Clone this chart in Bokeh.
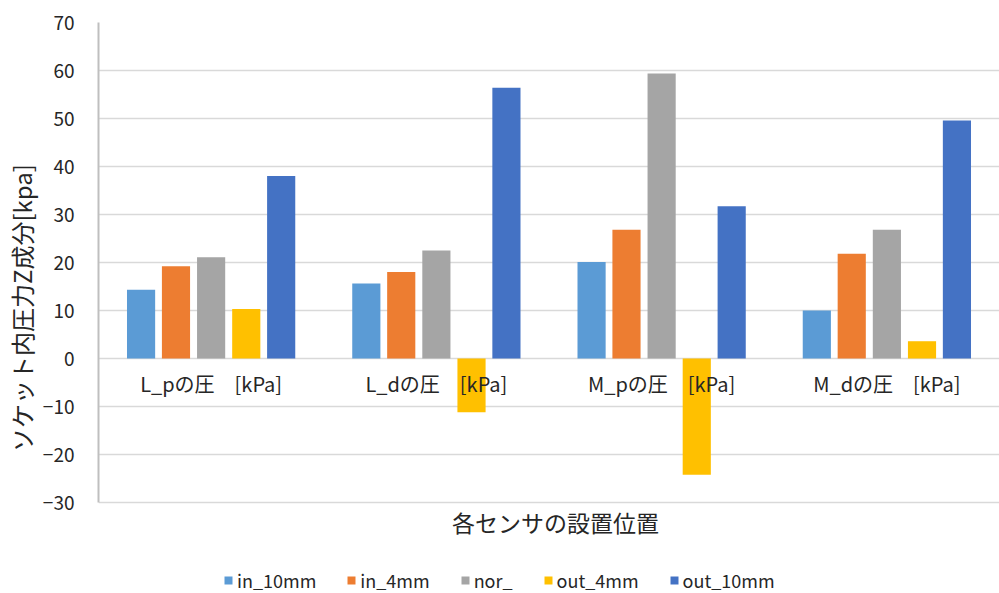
from bokeh.plotting import figure
from bokeh.models import (ColumnDataSource, Legend, LegendItem, FactorRange, Range1d,
                          FixedTicker, Title, Label)
from bokeh.transform import dodge
from bokeh.core.properties import value
from bokeh.embed import file_html
from bokeh.resources import INLINE

categories = ["L_pの圧　[kPa]", "L_dの圧　[kPa]", "M_pの圧　[kPa]", "M_dの圧　[kPa]"]
series_names = ["in_10mm", "in_4mm", "nor_", "out_4mm", "out_10mm"]
in_10mm = [14.3, 15.6, 20.1, 10.0]
in_4mm = [19.2, 18.0, 26.8, 21.8]
nor_ = [21.1, 22.5, 59.4, 26.8]
out_4mm = [10.3, -11.2, -24.2, 3.6]
out_10mm = [38.0, 56.4, 31.7, 49.6]
colors = ["#5B9BD5", "#ED7D31", "#A5A5A5", "#FFC000", "#4472C4"]
y_ticks = [-30, -20, -10, 0, 10, 20, 30, 40, 50, 60, 70]

FONT = "Noto Sans CJK JP"

# layout: value axis spans 480 px (70 -> -30); the frame extends below it to hold
# the x title and the legend
AXIS_PX = 480
FRAME_H = 571
y_start = y_ticks[-1] - (y_ticks[-1] - y_ticks[0]) * FRAME_H / AXIS_PX

src = ColumnDataSource(data=dict(
    cat=categories, in_10mm=in_10mm, in_4mm=in_4mm, nor_=nor_,
    out_4mm=out_4mm, out_10mm=out_10mm, zero=[0] * len(categories),
))

p = figure(
    x_range=FactorRange(*categories, range_padding=0),
    y_range=Range1d(y_start, y_ticks[-1]),
    frame_width=901, frame_height=FRAME_H,
    output_backend="svg", toolbar_location=None,
    min_border_left=97, min_border_right=1, min_border_top=22, min_border_bottom=0,
)
p.outline_line_color = None
p.background_fill_color = "white"
p.border_fill_color = "white"

offsets = [-0.311, -0.156, 0.0, 0.156, 0.311]
items = []
for name, col, off in zip(series_names, colors, offsets):
    r = p.vbar(x=dodge("cat", off, range=p.x_range), top=name, bottom=0, width=0.125,
               source=src, fill_color=col, line_color=None)
    items.append(LegendItem(label=name, renderers=[r]))

# category labels at the zero line
p.text(x="cat", y="zero", text="cat", source=src, text_align="center", text_baseline="middle",
       y_offset=25, text_font=value(FONT), text_font_size="20px", text_color="#262626")

# y axis
p.yaxis.ticker = FixedTicker(ticks=y_ticks)
p.yaxis.bounds = (y_ticks[0], y_ticks[-1])
p.yaxis.major_label_text_font = FONT
p.yaxis.major_label_text_font_size = "19px"
p.yaxis.major_label_text_color = "#262626"
p.yaxis.major_tick_line_color = None
p.yaxis.minor_tick_line_color = None
p.yaxis.axis_line_color = "#BFBFBF"
p.yaxis.axis_line_width = 2
p.yaxis.major_label_standoff = 18

ylabel = Title(text="ソケット内圧力Z成分[kpa]", align="center", offset=60, standoff=2,
               text_font=FONT, text_font_size="24px", text_font_style="normal",
               text_color="#262626")
p.add_layout(ylabel, "left")

p.xaxis.visible = False
p.xgrid.grid_line_color = None
p.ygrid.grid_line_color = "#D9D9D9"
p.ygrid.grid_line_width = 1.5
p.ygrid.bounds = (y_ticks[0], y_ticks[-1])

xlabel = Label(x=457, y=72, x_units="screen", y_units="screen", text="各センサの設置位置",
               text_align="center", text_baseline="middle", text_font=FONT,
               text_font_size="23px", text_color="#262626")
p.add_layout(xlabel)

legend = Legend(items=items, orientation="horizontal", location=(125, 0),
                label_text_font=FONT, label_text_font_size="18px", label_text_color="#262626",
                glyph_width=10, glyph_height=10, spacing=30, label_standoff=4,
                border_line_color=None, background_fill_alpha=0, margin=0, padding=1)
p.add_layout(legend, "center")

open("out.html", "w").write(file_html(p, INLINE))
